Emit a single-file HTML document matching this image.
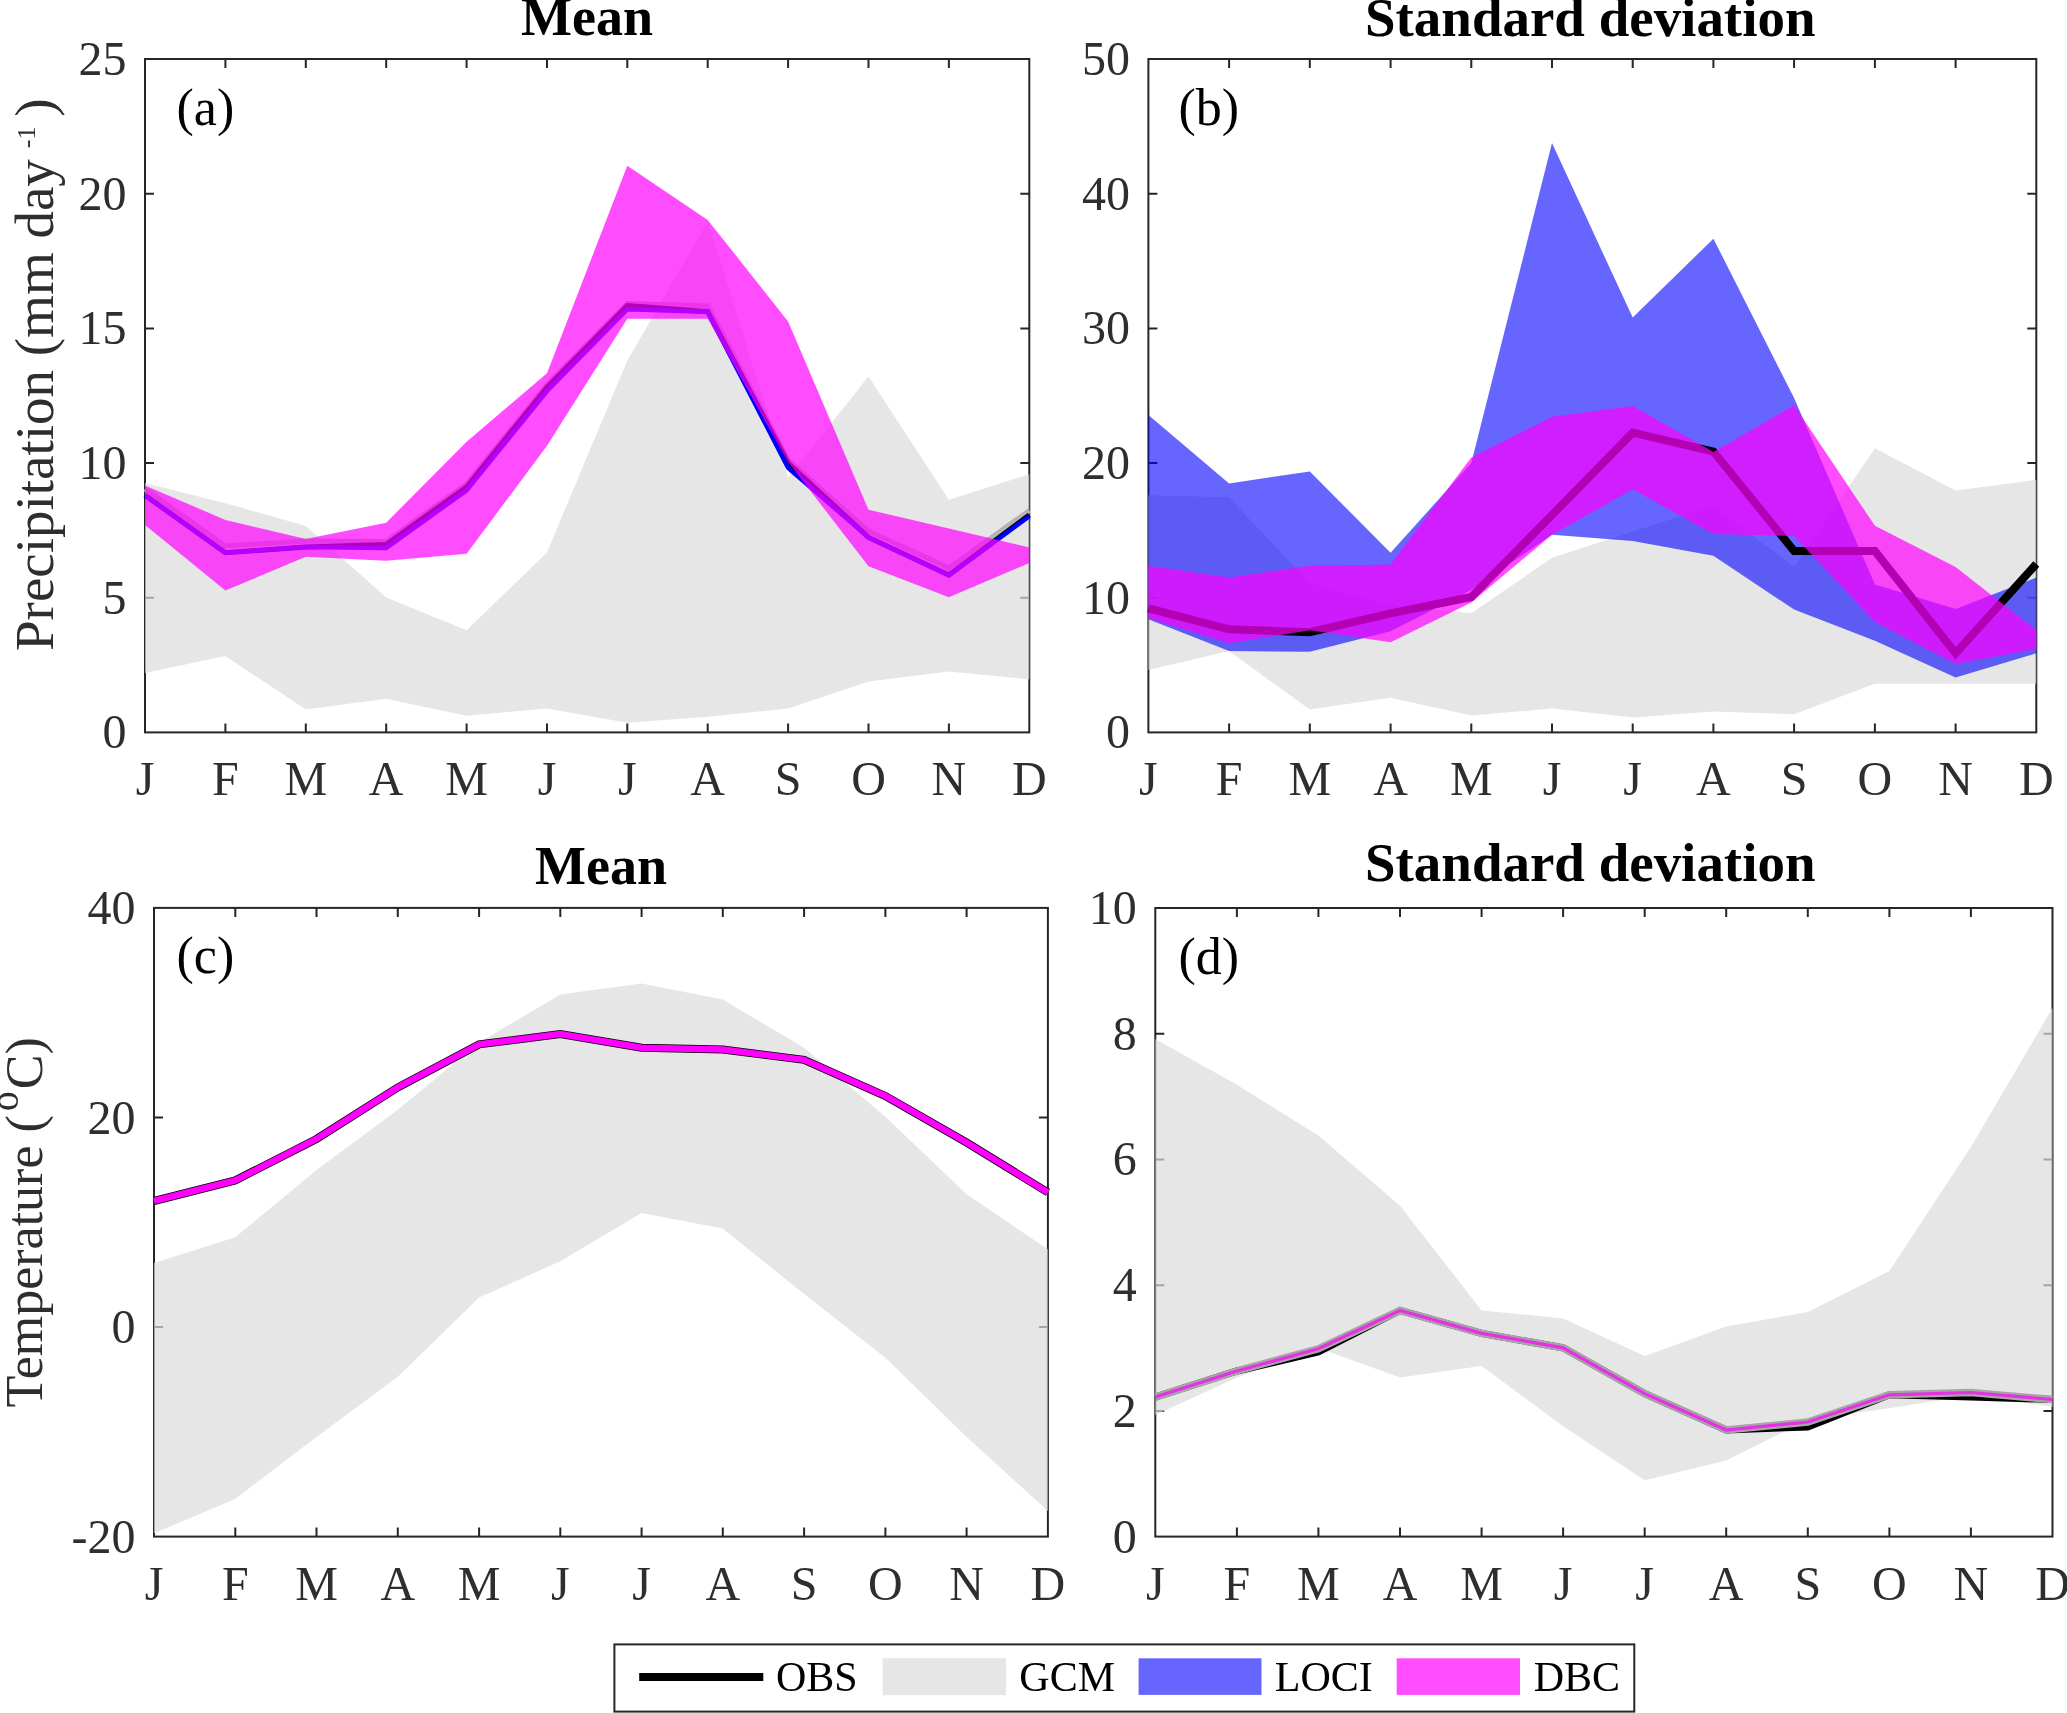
<!DOCTYPE html>
<html><head><meta charset="utf-8"><style>
html,body{margin:0;padding:0;background:#fff;}
svg{display:block;will-change:transform;}
text{font-family:"Liberation Serif",serif;}
.tk{font-size:48px;fill:#2e2e2e;}
.ti{font-size:54px;font-weight:bold;fill:#000;}
.pl{font-size:52px;fill:#000;}
.yl{fill:#2e2e2e;}
.lg{font-size:42px;fill:#000;}
</style></head><body>
<svg width="2067" height="1713" viewBox="0 0 2067 1713">
<rect width="2067" height="1713" fill="#fff"/>
<rect x="145" y="59" width="884.3" height="673.4" fill="none" stroke="#262626" stroke-width="2"/>
<path d="M225.4,732.4v-9M225.4,59v9M305.8,732.4v-9M305.8,59v9M386.2,732.4v-9M386.2,59v9M466.6,732.4v-9M466.6,59v9M547.0,732.4v-9M547.0,59v9M627.3,732.4v-9M627.3,59v9M707.7,732.4v-9M707.7,59v9M788.1,732.4v-9M788.1,59v9M868.5,732.4v-9M868.5,59v9M948.9,732.4v-9M948.9,59v9M145,597.7h9M1029.3,597.7h-9M145,463.0h9M1029.3,463.0h-9M145,328.4h9M1029.3,328.4h-9M145,193.7h9M1029.3,193.7h-9" stroke="#262626" stroke-width="2" fill="none"/>
<text x="145.0" y="795.4" class="tk" text-anchor="middle">J</text>
<text x="225.4" y="795.4" class="tk" text-anchor="middle">F</text>
<text x="305.8" y="795.4" class="tk" text-anchor="middle">M</text>
<text x="386.2" y="795.4" class="tk" text-anchor="middle">A</text>
<text x="466.6" y="795.4" class="tk" text-anchor="middle">M</text>
<text x="547.0" y="795.4" class="tk" text-anchor="middle">J</text>
<text x="627.3" y="795.4" class="tk" text-anchor="middle">J</text>
<text x="707.7" y="795.4" class="tk" text-anchor="middle">A</text>
<text x="788.1" y="795.4" class="tk" text-anchor="middle">S</text>
<text x="868.5" y="795.4" class="tk" text-anchor="middle">O</text>
<text x="948.9" y="795.4" class="tk" text-anchor="middle">N</text>
<text x="1029.3" y="795.4" class="tk" text-anchor="middle">D</text>
<text x="126.5" y="748.4" class="tk" text-anchor="end">0</text>
<text x="126.5" y="613.7" class="tk" text-anchor="end">5</text>
<text x="126.5" y="479.0" class="tk" text-anchor="end">10</text>
<text x="126.5" y="344.4" class="tk" text-anchor="end">15</text>
<text x="126.5" y="209.7" class="tk" text-anchor="end">20</text>
<text x="126.5" y="75.0" class="tk" text-anchor="end">25</text>
<polygon points="145.0,483.0 225.4,503.2 305.8,526.0 386.2,597.5 466.6,630.3 547.0,552.4 627.3,360.5 707.7,221.8 788.1,477.6 868.5,376.6 948.9,499.7 1029.3,474.2 1029.3,679.4 948.9,671.6 868.5,681.6 788.1,708.5 707.7,716.7 627.3,722.8 547.0,708.5 466.6,715.8 386.2,698.7 305.8,709.6 225.4,656.0 145.0,673.0" fill="rgba(219,219,219,0.7)" />
<polyline points="145.0,489.0 225.4,546.0 305.8,541.0 386.2,541.5 466.6,484.0 547.0,385.0 627.3,303.5 707.7,306.0 788.1,460.0 868.5,531.0 948.9,568.0 1029.3,510.5" fill="none" stroke="#b4b4b4" stroke-width="5" stroke-linejoin="miter" stroke-miterlimit="3" />
<polyline points="145.0,495.3 225.4,552.8 305.8,546.9 386.2,544.5 466.6,487.0 547.0,387.5 627.3,305.7 707.7,311.7 788.1,463.0 868.5,537.4 948.9,575.1 1029.3,515.0" fill="none" stroke="#000" stroke-width="5" stroke-linejoin="miter" stroke-miterlimit="3" />
<polyline points="145.0,495.3 225.4,552.8 305.8,546.9 386.2,547.9 466.6,490.3 547.0,391.0 627.3,309.2 707.7,311.7 788.1,467.8 868.5,537.4 948.9,575.1 1029.3,516.3" fill="none" stroke="#0000ff" stroke-width="4.5" stroke-linejoin="miter" stroke-miterlimit="3" />
<polygon points="145.0,485.4 225.4,520.0 305.8,539.0 386.2,522.7 466.6,441.7 547.0,373.2 627.3,165.8 707.7,219.9 788.1,321.4 868.5,509.7 948.9,528.6 1029.3,547.4 1029.3,563.0 948.9,597.3 868.5,566.3 788.1,462.0 707.7,318.8 627.3,318.8 547.0,445.7 466.6,553.8 386.2,560.8 305.8,556.8 225.4,590.5 145.0,525.0" fill="rgba(255,0,255,0.7)" />
<text x="176.5" y="124.5" class="pl">(a)</text>
<text x="587.1" y="35.0" class="ti" text-anchor="middle">Mean</text>
<rect x="1148.4" y="59" width="887.9" height="673.4" fill="none" stroke="#262626" stroke-width="2"/>
<path d="M1229.1,732.4v-9M1229.1,59v9M1309.8,732.4v-9M1309.8,59v9M1390.6,732.4v-9M1390.6,59v9M1471.3,732.4v-9M1471.3,59v9M1552.0,732.4v-9M1552.0,59v9M1632.7,732.4v-9M1632.7,59v9M1713.4,732.4v-9M1713.4,59v9M1794.1,732.4v-9M1794.1,59v9M1874.9,732.4v-9M1874.9,59v9M1955.6,732.4v-9M1955.6,59v9M1148.4,597.7h9M2036.3,597.7h-9M1148.4,463.0h9M2036.3,463.0h-9M1148.4,328.4h9M2036.3,328.4h-9M1148.4,193.7h9M2036.3,193.7h-9" stroke="#262626" stroke-width="2" fill="none"/>
<text x="1148.4" y="795.4" class="tk" text-anchor="middle">J</text>
<text x="1229.1" y="795.4" class="tk" text-anchor="middle">F</text>
<text x="1309.8" y="795.4" class="tk" text-anchor="middle">M</text>
<text x="1390.6" y="795.4" class="tk" text-anchor="middle">A</text>
<text x="1471.3" y="795.4" class="tk" text-anchor="middle">M</text>
<text x="1552.0" y="795.4" class="tk" text-anchor="middle">J</text>
<text x="1632.7" y="795.4" class="tk" text-anchor="middle">J</text>
<text x="1713.4" y="795.4" class="tk" text-anchor="middle">A</text>
<text x="1794.1" y="795.4" class="tk" text-anchor="middle">S</text>
<text x="1874.9" y="795.4" class="tk" text-anchor="middle">O</text>
<text x="1955.6" y="795.4" class="tk" text-anchor="middle">N</text>
<text x="2036.3" y="795.4" class="tk" text-anchor="middle">D</text>
<text x="1129.9" y="748.4" class="tk" text-anchor="end">0</text>
<text x="1129.9" y="613.7" class="tk" text-anchor="end">10</text>
<text x="1129.9" y="479.0" class="tk" text-anchor="end">20</text>
<text x="1129.9" y="344.4" class="tk" text-anchor="end">30</text>
<text x="1129.9" y="209.7" class="tk" text-anchor="end">40</text>
<text x="1129.9" y="75.0" class="tk" text-anchor="end">50</text>
<polygon points="1148.4,495.3 1229.1,497.3 1309.8,583.2 1390.6,605.0 1471.3,613.3 1552.0,557.8 1632.7,531.4 1713.4,506.0 1794.1,566.9 1874.9,448.3 1955.6,490.4 2036.3,479.9 2036.3,683.8 1955.6,683.8 1874.9,683.8 1794.1,714.2 1713.4,711.6 1632.7,717.5 1552.0,708.6 1471.3,715.5 1390.6,697.7 1309.8,709.6 1229.1,651.0 1148.4,670.0" fill="rgba(219,219,219,0.7)" />
<polygon points="1148.4,414.9 1229.1,483.4 1309.8,471.5 1390.6,552.8 1471.3,463.0 1552.0,143.1 1632.7,317.6 1713.4,238.7 1794.1,398.0 1874.9,584.6 1955.6,609.1 2036.3,577.6 2036.3,653.3 1955.6,677.5 1874.9,640.7 1794.1,609.6 1713.4,555.8 1632.7,540.9 1552.0,534.7 1471.3,590.0 1390.6,631.2 1309.8,651.7 1229.1,651.1 1148.4,619.3" fill="rgba(0,0,255,0.6)" />
<polyline points="1148.4,608.4 1229.1,629.3 1309.8,632.2 1390.6,613.4 1471.3,597.0 1552.0,515.0 1632.7,432.7 1713.4,451.5 1794.1,551.0 1874.9,551.0 1955.6,653.3 2036.3,564.0" fill="none" stroke="#000" stroke-width="8" stroke-linejoin="miter" stroke-miterlimit="3" />
<polygon points="1148.4,565.7 1229.1,577.6 1309.8,565.7 1390.6,564.5 1471.3,457.5 1552.0,416.8 1632.7,406.0 1713.4,452.1 1794.1,405.2 1874.9,525.8 1955.6,567.1 2036.3,630.2 2036.3,649.1 1955.6,663.8 1874.9,622.0 1794.1,536.0 1713.4,534.0 1632.7,489.3 1552.0,534.7 1471.3,602.5 1390.6,642.2 1309.8,630.3 1229.1,643.2 1148.4,618.3" fill="rgba(255,0,255,0.7)" />
<text x="1178.5" y="124.5" class="pl">(b)</text>
<text x="1365" y="36.0" class="ti" textLength="450.5" lengthAdjust="spacingAndGlyphs">Standard deviation</text>
<rect x="154" y="907.9" width="893.9" height="628.7" fill="none" stroke="#262626" stroke-width="2"/>
<path d="M235.3,1536.6v-9M235.3,907.9v9M316.5,1536.6v-9M316.5,907.9v9M397.8,1536.6v-9M397.8,907.9v9M479.1,1536.6v-9M479.1,907.9v9M560.3,1536.6v-9M560.3,907.9v9M641.6,1536.6v-9M641.6,907.9v9M722.8,1536.6v-9M722.8,907.9v9M804.1,1536.6v-9M804.1,907.9v9M885.4,1536.6v-9M885.4,907.9v9M966.6,1536.6v-9M966.6,907.9v9M154,1327.0h9M1047.9,1327.0h-9M154,1117.5h9M1047.9,1117.5h-9" stroke="#262626" stroke-width="2" fill="none"/>
<text x="154.0" y="1599.6" class="tk" text-anchor="middle">J</text>
<text x="235.3" y="1599.6" class="tk" text-anchor="middle">F</text>
<text x="316.5" y="1599.6" class="tk" text-anchor="middle">M</text>
<text x="397.8" y="1599.6" class="tk" text-anchor="middle">A</text>
<text x="479.1" y="1599.6" class="tk" text-anchor="middle">M</text>
<text x="560.3" y="1599.6" class="tk" text-anchor="middle">J</text>
<text x="641.6" y="1599.6" class="tk" text-anchor="middle">J</text>
<text x="722.8" y="1599.6" class="tk" text-anchor="middle">A</text>
<text x="804.1" y="1599.6" class="tk" text-anchor="middle">S</text>
<text x="885.4" y="1599.6" class="tk" text-anchor="middle">O</text>
<text x="966.6" y="1599.6" class="tk" text-anchor="middle">N</text>
<text x="1047.9" y="1599.6" class="tk" text-anchor="middle">D</text>
<text x="135.5" y="1552.6" class="tk" text-anchor="end">-20</text>
<text x="135.5" y="1343.0" class="tk" text-anchor="end">0</text>
<text x="135.5" y="1133.5" class="tk" text-anchor="end">20</text>
<text x="135.5" y="923.9" class="tk" text-anchor="end">40</text>
<polygon points="154.0,1263.0 235.3,1237.2 316.5,1170.0 397.8,1109.8 479.1,1042.6 560.3,994.4 641.6,983.4 722.8,999.6 804.1,1047.8 885.4,1116.7 966.6,1194.2 1047.9,1249.3 1047.9,1511.0 966.6,1436.9 885.4,1357.7 804.1,1294.0 722.8,1228.6 641.6,1213.1 560.3,1261.3 479.1,1297.5 397.8,1376.7 316.5,1436.9 235.3,1498.9 154.0,1533.3" fill="rgba(219,219,219,0.7)" />
<polyline points="154.0,1201.0 235.3,1180.4 316.5,1139.0 397.8,1087.4 479.1,1044.4 560.3,1034.0 641.6,1047.8 722.8,1049.5 804.1,1059.9 885.4,1096.0 966.6,1142.5 1047.9,1192.4" fill="none" stroke="#000" stroke-width="8" stroke-linejoin="miter" stroke-miterlimit="3" />
<polyline points="154.0,1201.0 235.3,1180.4 316.5,1139.0 397.8,1087.4 479.1,1044.4 560.3,1034.0 641.6,1047.8 722.8,1049.5 804.1,1059.9 885.4,1096.0 966.6,1142.5 1047.9,1192.4" fill="none" stroke="#ff00ff" stroke-width="6.5" stroke-linejoin="miter" stroke-miterlimit="3" />
<text x="176.5" y="973.4" class="pl">(c)</text>
<text x="601.0" y="883.9" class="ti" text-anchor="middle">Mean</text>
<rect x="1155.3" y="908" width="897.2" height="628.6" fill="none" stroke="#262626" stroke-width="2"/>
<path d="M1236.9,1536.6v-9M1236.9,908v9M1318.4,1536.6v-9M1318.4,908v9M1400.0,1536.6v-9M1400.0,908v9M1481.6,1536.6v-9M1481.6,908v9M1563.1,1536.6v-9M1563.1,908v9M1644.7,1536.6v-9M1644.7,908v9M1726.2,1536.6v-9M1726.2,908v9M1807.8,1536.6v-9M1807.8,908v9M1889.4,1536.6v-9M1889.4,908v9M1970.9,1536.6v-9M1970.9,908v9M1155.3,1410.9h9M2052.5,1410.9h-9M1155.3,1285.2h9M2052.5,1285.2h-9M1155.3,1159.4h9M2052.5,1159.4h-9M1155.3,1033.7h9M2052.5,1033.7h-9" stroke="#262626" stroke-width="2" fill="none"/>
<text x="1155.3" y="1599.6" class="tk" text-anchor="middle">J</text>
<text x="1236.9" y="1599.6" class="tk" text-anchor="middle">F</text>
<text x="1318.4" y="1599.6" class="tk" text-anchor="middle">M</text>
<text x="1400.0" y="1599.6" class="tk" text-anchor="middle">A</text>
<text x="1481.6" y="1599.6" class="tk" text-anchor="middle">M</text>
<text x="1563.1" y="1599.6" class="tk" text-anchor="middle">J</text>
<text x="1644.7" y="1599.6" class="tk" text-anchor="middle">J</text>
<text x="1726.2" y="1599.6" class="tk" text-anchor="middle">A</text>
<text x="1807.8" y="1599.6" class="tk" text-anchor="middle">S</text>
<text x="1889.4" y="1599.6" class="tk" text-anchor="middle">O</text>
<text x="1970.9" y="1599.6" class="tk" text-anchor="middle">N</text>
<text x="2052.5" y="1599.6" class="tk" text-anchor="middle">D</text>
<text x="1136.8" y="1552.6" class="tk" text-anchor="end">0</text>
<text x="1136.8" y="1426.9" class="tk" text-anchor="end">2</text>
<text x="1136.8" y="1301.2" class="tk" text-anchor="end">4</text>
<text x="1136.8" y="1175.4" class="tk" text-anchor="end">6</text>
<text x="1136.8" y="1049.7" class="tk" text-anchor="end">8</text>
<text x="1136.8" y="924.0" class="tk" text-anchor="end">10</text>
<polygon points="1155.3,1039.0 1236.9,1084.8 1318.4,1135.5 1400.0,1205.8 1481.6,1310.5 1563.1,1318.4 1644.7,1356.0 1726.2,1326.6 1807.8,1311.9 1889.4,1271.0 1970.9,1146.9 2052.5,1008.0 2052.5,1406.7 1970.9,1395.2 1889.4,1408.3 1807.8,1419.7 1726.2,1460.6 1644.7,1480.2 1563.1,1426.3 1481.6,1366.0 1400.0,1377.5 1318.4,1348.1 1236.9,1377.5 1155.3,1415.1" fill="rgba(219,219,219,0.7)" />
<polyline points="1155.3,1397.1 1236.9,1371.0 1318.4,1352.0 1400.0,1310.5 1481.6,1333.4 1563.1,1347.8 1644.7,1393.6 1726.2,1430.0 1807.8,1427.0 1889.4,1394.8 1970.9,1397.0 2052.5,1399.5" fill="none" stroke="#000" stroke-width="7" stroke-linejoin="miter" stroke-miterlimit="3" />
<polyline points="1155.3,1397.1 1236.9,1371.0 1318.4,1348.8 1400.0,1310.5 1481.6,1333.4 1563.1,1347.8 1644.7,1393.6 1726.2,1430.0 1807.8,1422.0 1889.4,1394.8 1970.9,1392.5 2052.5,1399.5" fill="none" stroke="#a6a6a6" stroke-width="7.5" stroke-linejoin="miter" stroke-miterlimit="3" />
<polyline points="1155.3,1397.1 1236.9,1371.0 1318.4,1348.8 1400.0,1310.5 1481.6,1333.4 1563.1,1347.8 1644.7,1393.6 1726.2,1430.0 1807.8,1422.0 1889.4,1394.8 1970.9,1392.5 2052.5,1399.5" fill="none" stroke="rgba(255,0,255,0.7)" stroke-width="3.2" stroke-linejoin="miter" stroke-miterlimit="3" />
<text x="1178.5" y="973.5" class="pl">(d)</text>
<text x="1365" y="880.5" class="ti" textLength="450.5" lengthAdjust="spacingAndGlyphs">Standard deviation</text>
<text transform="translate(52.6,651) rotate(-90)" class="yl" font-size="55">Precipitation (mm day<tspan dx="11" dy="-17.6" font-size="26">-1</tspan><tspan dx="-4" dy="17.6"> )</tspan></text>
<text transform="translate(42.4,1407.5) rotate(-90)" class="yl" font-size="52">Temperature (<tspan dx="4" dy="-24" font-size="40">o</tspan><tspan dx="2" dy="24">C)</tspan></text>
<rect x="614.4" y="1644.4" width="1019.9" height="67.2" fill="#fff" stroke="#262626" stroke-width="2"/>
<line x1="639.2" y1="1677" x2="763.3" y2="1677" stroke="#000" stroke-width="8"/>
<text x="776" y="1691.3" class="lg">OBS</text>
<rect x="882.6" y="1658.2" width="123.4" height="37" fill="rgba(219,219,219,0.7)"/>
<text x="1019.3" y="1691.3" class="lg">GCM</text>
<rect x="1138.6" y="1658.3" width="122.9" height="36.6" fill="#6666ff"/>
<text x="1274.8" y="1691.3" class="lg">LOCI</text>
<rect x="1396.7" y="1658.3" width="123.3" height="36.6" fill="#ff4dff"/>
<text x="1533.7" y="1691.3" class="lg">DBC</text>
</svg>
</body></html>
